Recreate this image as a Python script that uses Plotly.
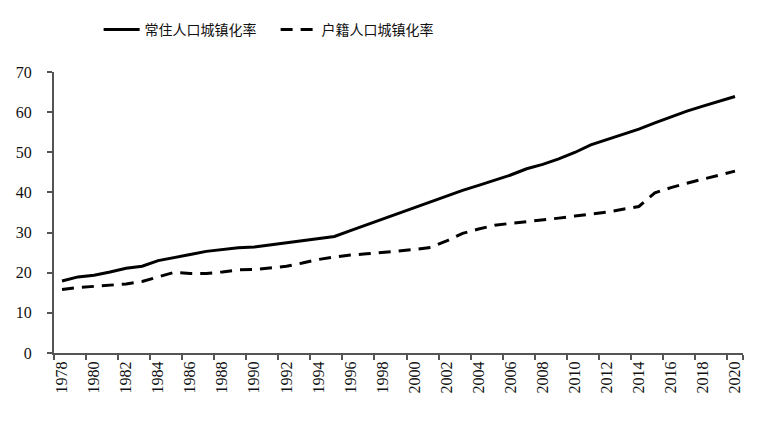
import plotly.graph_objects as go

years = list(range(1978, 2021))
resident_rate = [17.92, 18.96, 19.39, 20.16, 21.13, 21.62, 23.01, 23.71, 24.52, 25.32,
                 25.81, 26.21, 26.41, 26.94, 27.46, 27.99, 28.51, 29.04, 30.48, 31.91,
                 33.35, 34.78, 36.22, 37.66, 39.09, 40.53, 41.76, 42.99, 44.34, 45.89,
                 46.99, 48.34, 49.95, 51.83, 53.10, 54.49, 55.75, 57.33, 58.84, 60.24,
                 61.50, 62.71, 63.89]
hukou_rate = [15.8, 16.3, 16.6, 16.9, 17.2, 17.8, 18.9, 20.1, 19.8, 19.8,
              20.2, 20.7, 20.8, 21.2, 21.6, 22.4, 23.3, 23.9, 24.4, 24.7,
              25.0, 25.4, 25.8, 26.3, 27.9, 29.8, 30.9, 31.8, 32.3, 32.7,
              33.1, 33.6, 34.1, 34.6, 35.1, 35.8, 36.5, 39.9, 41.2, 42.3,
              43.3, 44.3, 45.3]
tick_years = list(range(1978, 2021, 2))
y_ticks = list(range(0, 71, 10))
series_names = ["常住人口城镇化率", "户籍人口城镇化率"]

fig = go.Figure()
fig.add_trace(go.Scatter(x=years, y=resident_rate, mode="lines", name=series_names[0],
                         line=dict(color="black", width=3)))
fig.add_trace(go.Scatter(x=years, y=hukou_rate, mode="lines", name=series_names[1],
                         line=dict(color="black", width=3, dash="12px,8px")))

axis_font = dict(family="Liberation Serif, Times New Roman, serif", size=16, color="#111")
fig.update_layout(
    width=768, height=421,
    margin=dict(l=46, r=33, t=64, b=76, autoexpand=False),
    paper_bgcolor="white", plot_bgcolor="white",
    showlegend=True,
    legend=dict(orientation="h", xref="container", yref="container",
                x=0.118, xanchor="left", y=0.948, yanchor="middle",
                font=dict(family="Noto Sans CJK SC", size=14, color="#111"),
                itemwidth=36, entrywidth=126, entrywidthmode="pixels"),
    xaxis=dict(range=[1977.5, 2020.5], tickmode="array", tickvals=tick_years,
               ticktext=[str(y) for y in tick_years], tickangle=-90, ticks="",
               showgrid=False, zeroline=False, showline=True, linecolor="#555", linewidth=2,
               tickfont=axis_font, automargin=False,
               minor=dict(tickmode="array", tickvals=[y - 0.5 for y in tick_years] + [2020.5],
                          ticks="outside", ticklen=5, tickcolor="#555", tickwidth=1.5,
                          showgrid=False)),
    yaxis=dict(range=[0, 70], tickmode="array", tickvals=y_ticks, ticks="outside", ticklen=5,
               tickcolor="#555", tickwidth=1.5, showgrid=False, zeroline=False,
               showline=True, linecolor="#555", linewidth=2, tickfont=axis_font,
               ticklabelstandoff=12, automargin=False),
)
fig.write_html("out.html")
